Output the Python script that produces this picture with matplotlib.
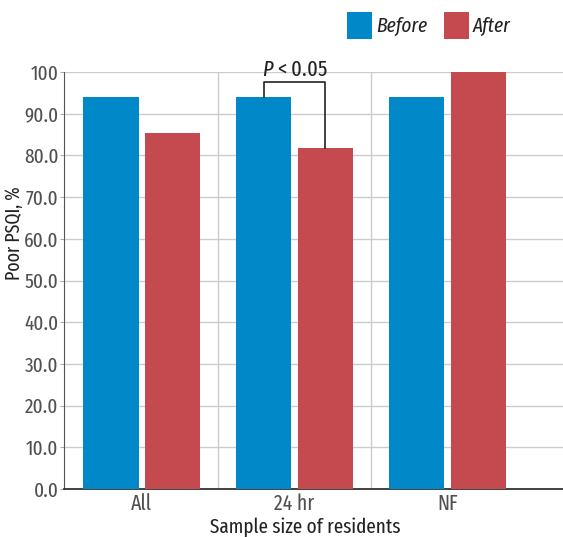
import matplotlib
matplotlib.use('Agg')
import matplotlib.pyplot as plt
from matplotlib import font_manager

# ---- data ----
categories = ['All', '24 hr', 'NF']
before = [94.0, 94.0, 94.0]
after = [85.3, 81.8, 100.0]
ytick_vals = [0, 10, 20, 30, 40, 50, 60, 70, 80, 90, 100]
ytick_labels = ['0.0', '10.0', '20.0', '30.0', '40.0', '50.0', '60.0', '70.0', '80.0', '90.0', '100']

# narrow font, the reference uses a condensed face
names = {f.name for f in font_manager.fontManager.ttflist}
FONT = 'Fira Sans Extra Condensed'
if FONT in names:
    plt.rcParams['font.family'] = [FONT, 'DejaVu Sans']
    plt.rcParams['mathtext.fontset'] = 'custom'
    plt.rcParams['mathtext.rm'] = FONT
    plt.rcParams['mathtext.it'] = FONT + ':italic'
else:
    plt.rcParams['font.family'] = ['DejaVu Sans']
    plt.rcParams['font.stretch'] = 'condensed'

BLUE = '#0088C8'
RED = '#C44A4F'
TICK_C = '#505050'

fig = plt.figure(figsize=(5.63, 5.37), dpi=100)
ax = fig.add_axes([0.1137, 0.0894, 0.8863, 0.7765])

x = list(range(len(categories)))
w = 0.36
ax.bar([i - 0.2 for i in x], before, w, color=BLUE, zorder=3, label='Before')
ax.bar([i + 0.2 for i in x], after, w, color=RED, zorder=3, label='After')

ax.set_xlim(-0.507, 2.755)
ax.set_ylim(0, 100)
ax.set_yticks(ytick_vals)
ax.set_yticklabels(ytick_labels)
ax.set_xticks(x)
ax.set_xticklabels(categories)
ax.set_xticks([0.5, 1.5], minor=True)
ax.tick_params(axis='x', which='both', length=0, labelsize=15.5, colors=TICK_C, pad=3)
ax.tick_params(axis='y', length=3, color='#aaaaaa', labelsize=15, colors=TICK_C, pad=1)
ax.grid(axis='y', color='#cccccc', linewidth=1, zorder=0)
ax.grid(axis='x', which='minor', color='#cccccc', linewidth=1, zorder=0)
for s in ['top', 'right']:
    ax.spines[s].set_visible(False)
ax.spines['left'].set_color('#555555')
ax.spines['bottom'].set_color('#333333')
ax.spines['bottom'].set_linewidth(1.3)

ax.set_ylabel('Poor PSQI, %', fontsize=14, color='#222222')
ax.yaxis.set_label_coords(-0.1, 0.614)
ax.yaxis.label.set_va('center')
ax.set_xlabel('Sample size of residents', fontsize=15, color='#222222')
ax.xaxis.set_label_coords(0.483, -0.091)
ax.xaxis.label.set_va('center')

# significance bracket
top = 97.6
ax.plot([0.8, 0.8, 1.2, 1.2], [before[1], top, top, after[1]],
        color='#222222', linewidth=1.2, zorder=4, clip_on=False)
ax.text(1.0, 99.0, r'$P$ < 0.05', ha='center', va='baseline',
        fontsize=16, color='#222222')

fig.legend(loc='upper left', bbox_to_anchor=(0.616, 0.978), ncol=2, frameon=False,
           prop={'size': 15, 'style': 'italic'}, handlelength=1.2,
           handleheight=1.6, handletextpad=0.2, columnspacing=0.8,
           borderpad=0, borderaxespad=0, labelcolor='#222222')

fig.savefig('out.png', dpi=100)
